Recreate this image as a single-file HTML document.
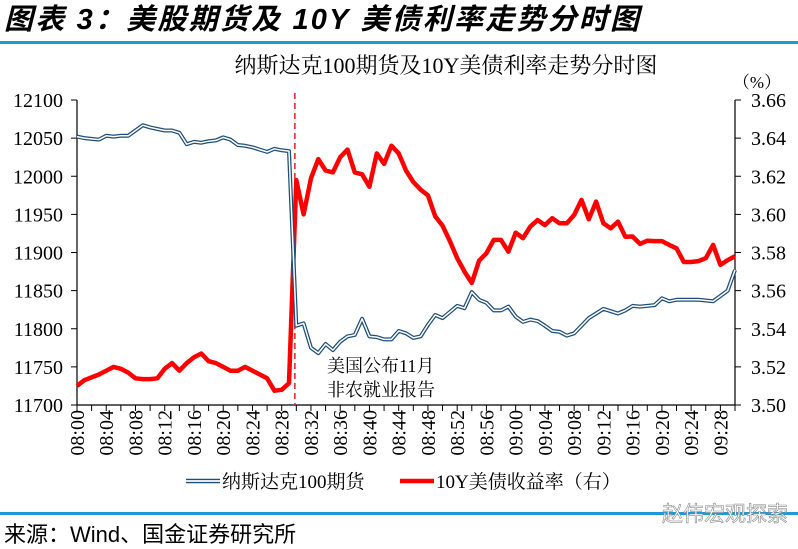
<!DOCTYPE html>
<html><head><meta charset="utf-8"><style>
body{margin:0;background:#fff;}
svg{display:block;}
.serif{font-family:"Liberation Serif","Noto Serif CJK SC",serif;}
</style></head><body>
<svg id="chart" width="798" height="549" viewBox="0 0 798 549" xmlns="http://www.w3.org/2000/svg">
<text x="4" y="29" font-family="Liberation Sans,'Noto Sans CJK SC',sans-serif" font-size="29" font-weight="bold" font-style="italic" letter-spacing="2.2" fill="#000">图表 3：美股期货及 10Y 美债利率走势分时图</text>
<rect x="0" y="41" width="798" height="3" fill="#1a9ad6"/>
<text x="446" y="73" text-anchor="middle" class="serif" font-size="22" fill="#000">纳斯达克100期货及10Y美债利率走势分时图</text>
<text x="757" y="88" text-anchor="middle" class="serif" font-size="17" fill="#000">（%）</text>
<g id="plot"></g>
<g>
<text x="327" y="372" class="serif" font-size="18" fill="#000">美国公布11月</text>
<text x="327" y="396" class="serif" font-size="18" fill="#000">非农就业报告</text>
</g>
<g>
<g>
<line x1="186" y1="481" x2="220" y2="481" stroke="#1f4e79" stroke-width="4.5"/>
<line x1="186" y1="481" x2="220" y2="481" stroke="#fff" stroke-width="1.8"/>
<text x="222" y="488" class="serif" font-size="19" fill="#000">纳斯达克100期货</text>
</g>
<g>
<line x1="400" y1="481" x2="434" y2="481" stroke="#f00" stroke-width="4.5"/>
<text x="436" y="488" class="serif" font-size="19" fill="#000">10Y美债收益率（右）</text>
</g>
</g>
<rect x="0" y="512" width="798" height="3" fill="#1a9ad6"/>
<text x="662" y="521" font-family="Liberation Sans,'Noto Sans CJK SC',sans-serif" font-size="21" fill="#fff" stroke="#888" stroke-width="0.6">赵伟宏观探索</text>
<text x="4" y="542" font-family="Liberation Sans,'Noto Sans CJK SC',sans-serif" font-size="22" fill="#000">来源：Wind、国金证券研究所</text>
</svg>
<script>
const nasdaq=[12052,12050,12049,12048,12053,12052,12053,12053,12060,12067,12064,12062,12060,12060,12057,12042,12045,12044,12046,12047,12051,12048,12041,12040,12038,12035,12032,12036,12034,12033,
11804,11807,11775,11768,11780,11772,11783,11790,11792,11813,11790,11789,11786,11786,11797,11794,11788,11790,11805,11818,11814,11822,11830,11827,11848,11838,11834,11824,11824,11829,11816,11809,11812,11810,11804,11797,11796,11791,11794,11804,11814,11820,11826,11823,11820,11824,11830,11829,11830,11831,11840,11836,11838,11838,11838,11838,11837,11836,11843,11850,11877];
const yieldVals=[3.510,3.513,3.5145,3.516,3.518,3.520,3.519,3.517,3.514,3.5136,3.5136,3.514,3.519,3.522,3.518,3.522,3.525,3.527,3.523,3.522,3.520,3.518,3.518,3.520,3.518,3.516,3.514,3.5075,3.508,3.5115,
3.618,3.600,3.619,3.629,3.623,3.622,3.630,3.634,3.622,3.621,3.6145,3.632,3.6265,3.636,3.632,3.623,3.617,3.613,3.610,3.599,3.594,3.586,3.577,3.570,3.564,3.5757,3.5796,3.5866,3.5866,3.5804,3.5904,3.5875,3.5936,3.597,3.5944,3.598,3.5953,3.5953,3.5997,3.6076,3.5974,3.6067,3.5953,3.5927,3.5962,3.5883,3.5884,3.5845,3.5862,3.586,3.586,3.584,3.5822,3.575,3.575,3.5755,3.577,3.584,3.5735,3.576,3.578];
const leftTicks=[11700,11750,11800,11850,11900,11950,12000,12050,12100];
const rightTicks=[3.50,3.52,3.54,3.56,3.58,3.60,3.62,3.64,3.66];
const eventMinute=29.8;
const NS="http://www.w3.org/2000/svg";
const X0=77,X1=735,Y0=405,Y1=100;
const N=nasdaq.length;
function xs(i){return X0+(X1-X0)*i/(N-1);}
function yl(v){return Y0-(v-11700)/(12100-11700)*(Y0-Y1);}
function yr(v){return Y0-(v-3.50)/(0.16)*(Y0-Y1);}
function label(i){const m=i;const h=8+Math.floor(m/60);const mm=m%60;return "0"+h+":"+(mm<10?"0":"")+mm;}
const g=document.getElementById('plot');
function mk(t,a){const e=document.createElementNS(NS,t);for(const k in a)e.setAttribute(k,a[k]);g.appendChild(e);return e;}
let e;
e=mk('line',{x1:X0,y1:Y1,x2:X0,y2:Y0,stroke:'#000','stroke-width':1.2});


e=mk('line',{x1:X1,y1:Y1,x2:X1,y2:Y0,stroke:'#000','stroke-width':1.2});


e=mk('line',{x1:X0,y1:Y0,x2:X1,y2:Y0,stroke:'#000','stroke-width':1.2});


leftTicks.forEach(v=>{
 const y=yl(v);
 mk('line',{x1:X0-6,y1:y,x2:X0,y2:y,stroke:'#000','stroke-width':1});
 const t=mk('text',{x:X0-14,y:y+7,'text-anchor':'end','font-size':20,'font-family':'Liberation Serif,serif',fill:'#000'});
 t.textContent=v;
 
 
});
rightTicks.forEach(v=>{
 const y=yr(v);
 mk('line',{x1:X1,y1:y,x2:X1+6,y2:y,stroke:'#000','stroke-width':1});
 const t=mk('text',{x:X1+16,y:y+7,'font-size':20,'font-family':'Liberation Serif,serif',fill:'#000'});
 t.textContent=v.toFixed(2);
 
 
});
for(let i=0;i<N;i+=2){
 mk('line',{x1:xs(i),y1:Y0,x2:xs(i),y2:Y0+6,stroke:'#000','stroke-width':1});
}
for(let i=0;i<N-1;i+=4){
 const x=xs(i);
 const t=mk('text',{x:0,y:0,transform:`translate(${x+7},410) rotate(-90)`,'text-anchor':'end','font-size':20,'font-family':'Liberation Serif,serif',fill:'#000'});
 t.textContent=label(i);
 
 
}
const xe=X0+(X1-X0)*eventMinute/(N-1);
e=mk('line',{x1:xe,y1:93,x2:xe,y2:Y0,stroke:'#e02020','stroke-width':1.5,'stroke-dasharray':'6,4'});


const pn=nasdaq.map((v,i)=>xs(i).toFixed(1)+','+yl(v).toFixed(1)).join(' ');
const py=yieldVals.map((v,i)=>xs(i).toFixed(1)+','+yr(v).toFixed(1)).join(' ');
e=mk('polyline',{points:py,fill:'none',stroke:'#f00','stroke-width':4.5,'stroke-linejoin':'round'});


e=mk('polyline',{points:pn,fill:'none',stroke:'#1f4e79','stroke-width':4,'stroke-linejoin':'round'});


e=mk('polyline',{points:pn,fill:'none',stroke:'#fff','stroke-width':1.5,'stroke-linejoin':'round'});


</script>
</body></html>
